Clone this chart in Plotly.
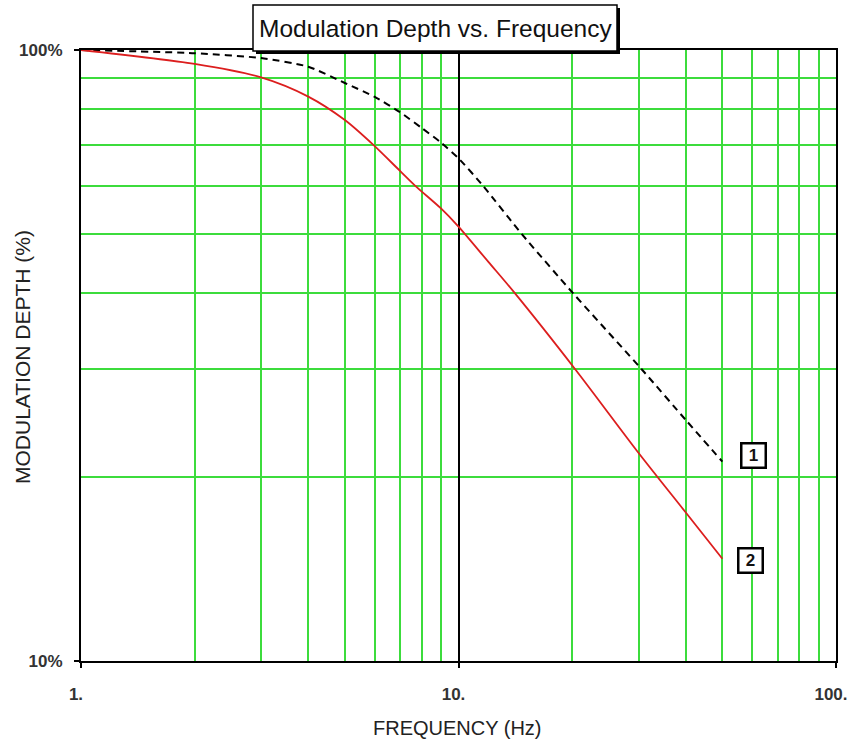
import numpy as np
import plotly.graph_objects as go

# ---- data ----
freq_1 = [1, 2, 3, 4, 5, 6, 7, 8, 9, 10, 11.6, 14.7, 20.1, 30.6, 40, 50]
depth_1 = [100, 98.8, 97.0, 93.9, 88.3, 83.8, 79.1, 74.5, 70.5, 66.5, 60, 50, 40, 30, 24.8, 21.2]

freq_2 = [1, 2, 3, 4, 5, 5.94, 7, 7.67, 9, 10, 12, 14.1, 20.4, 30, 40, 50]
depth_2 = [100, 94.9, 90.2, 83.9, 76.8, 70, 63.4, 60, 55.0, 51.4, 45.0, 40, 30.0, 21.9, 17.5, 14.7]

x_major = [1, 10, 100]
x_major_text = ["1.", "10.", "100."]
x_minor = [2, 3, 4, 5, 6, 7, 8, 9, 20, 30, 40, 50, 60, 70, 80, 90]
y_major = [10, 100]
y_major_text = ["10%", "100%"]
y_minor = [20, 30, 40, 50, 60, 70, 80, 90]

title_text = "Modulation Depth vs. Frequency"
x_title = "FREQUENCY (Hz)"
y_title = "MODULATION DEPTH (%)"
label_1 = ("1", 60.3, 21.7)
label_2 = ("2", 59.2, 14.6)

# ---- layout geometry ----
W, H = 849, 745
ML, MR, MT, MB = 81, 13, 50, 84
PW, PH = W - ML - MR, H - MT - MB


def px2x(px):
    return (px - ML) / PW


def px2y(py):
    return (H - MB - py) / PH


GREEN = "rgb(60,220,60)"
FONT = "Arial, Liberation Sans, sans-serif"

fig = go.Figure()
fig.add_trace(go.Scatter(x=freq_1, y=depth_1, mode="lines",
                         line=dict(color="black", width=2, dash="7px,5px", shape="spline", smoothing=0.6),
                         hoverinfo="skip", showlegend=False))
fig.add_trace(go.Scatter(x=freq_2, y=depth_2, mode="lines",
                         line=dict(color="rgb(220,30,30)", width=1.8, shape="spline", smoothing=0.8),
                         hoverinfo="skip", showlegend=False))

axis_common = dict(showline=True, mirror=True, linecolor="black", linewidth=2,
                   ticks="outside", ticklen=5, tickcolor="black", tickwidth=2,
                   tickfont=dict(family=FONT, size=17, color="#333", weight="bold"),
                   showgrid=True, gridcolor="black", gridwidth=1.5, automargin=False)

fig.update_xaxes(type="log", range=[0, 2], tickvals=x_major, ticktext=x_major_text,
                 ticklabelstandoff=12, ticklabelshift=-5,
                 minor=dict(tickvals=x_minor, showgrid=True, gridcolor=GREEN, gridwidth=2, ticks=""),
                 **axis_common)
fig.update_yaxes(type="log", range=[1, 2], tickvals=y_major, ticktext=y_major_text,
                 ticklabelstandoff=8,
                 minor=dict(tickvals=y_minor, showgrid=True, gridcolor=GREEN, gridwidth=2, ticks=""),
                 **axis_common)

shapes = []
# title box shadow and box
shapes.append(dict(type="rect", xref="paper", yref="paper", layer="above",
                   x0=px2x(256), x1=px2x(620), y0=px2y(8), y1=px2y(54),
                   fillcolor="black", line=dict(width=0)))
shapes.append(dict(type="rect", xref="paper", yref="paper", layer="above",
                   x0=px2x(253), x1=px2x(617), y0=px2y(5), y1=px2y(51),
                   fillcolor="white", line=dict(color="black", width=1.5)))

annotations = [
    dict(text=title_text, xref="paper", yref="paper", x=px2x(435), y=px2y(28),
         xanchor="center", yanchor="middle", showarrow=False,
         font=dict(family=FONT, size=24.5, color="#111")),
    dict(text=x_title, xref="paper", yref="paper", x=px2x(457), y=px2y(728),
         xanchor="center", yanchor="middle", showarrow=False,
         font=dict(family=FONT, size=20, color="#222")),
    dict(text=y_title, xref="paper", yref="paper", x=px2x(22), y=px2y(357),
         xanchor="center", yanchor="middle", showarrow=False, textangle=-90,
         font=dict(family=FONT, size=21, color="#222")),
]
for txt, fx, fy in (label_1, label_2):
    annotations.append(dict(text=txt, x=np.log10(fx), y=np.log10(fy), xref="x", yref="y",
                            showarrow=False, width=20, height=20, borderpad=1,
                            bgcolor="white", bordercolor="black", borderwidth=2.5,
                            font=dict(family=FONT, size=17, color="#111", weight="bold")))

fig.update_layout(width=W, height=H, margin=dict(l=ML, r=MR, t=MT, b=MB, autoexpand=False),
                  paper_bgcolor="white", plot_bgcolor="white",
                  shapes=shapes, annotations=annotations, showlegend=False)

fig.write_html("out.html")
